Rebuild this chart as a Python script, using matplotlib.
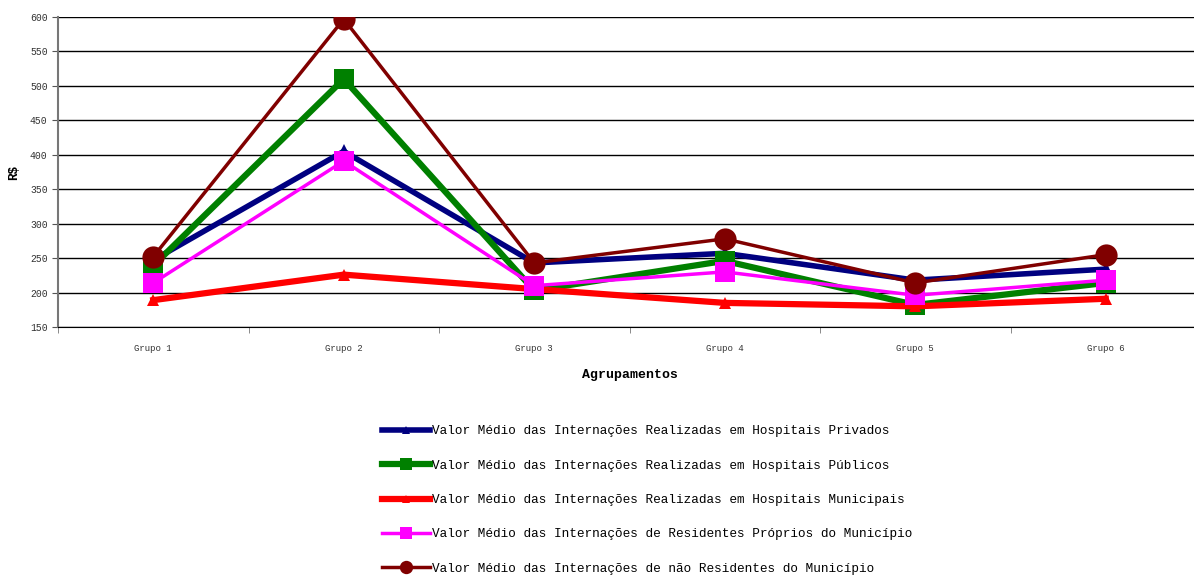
import matplotlib
matplotlib.use("Agg")
import matplotlib.pyplot as plt

groups = ["Grupo 1", "Grupo 2", "Grupo 3", "Grupo 4", "Grupo 5", "Grupo 6"]

privados = [247, 405, 243, 257, 218, 234]
publicos = [239, 510, 203, 246, 182, 214]
municipais = [189, 226, 205, 185, 180, 191]
residentes = [214, 391, 210, 230, 196, 218]
nao_residentes = [252, 597, 243, 278, 214, 255]

labels = [
    "Valor Médio das Internações Realizadas em Hospitais Privados",
    "Valor Médio das Internações Realizadas em Hospitais Públicos",
    "Valor Médio das Internações Realizadas em Hospitais Municipais",
    "Valor Médio das Internações de Residentes Próprios do Município",
    "Valor Médio das Internações de não Residentes do Município",
]

mono = "Liberation Mono"

fig = plt.figure(figsize=(11.94, 5.8), dpi=100)
ax = fig.add_axes([58 / 1194, 1 - 327 / 580, (1201 - 58) / 1194, (327 - 17) / 580])

x = list(range(len(groups)))
styles = [
    (privados, "#000080", 4.0, "^", 10),
    (publicos, "#008000", 4.5, "s", 14),
    (municipais, "#ff0000", 4.5, "^", 9),
    (residentes, "#ff00ff", 2.5, "s", 14),
    (nao_residentes, "#800000", 2.5, "o", 16),
]
for (vals, color, lw, mk, ms), lab in zip(styles, labels):
    ax.plot(x, vals, color=color, lw=lw, marker=mk, markersize=ms,
            markeredgewidth=0, label=lab, solid_joinstyle="miter")

ax.set_xlim(-0.5, 5.5)
ax.set_ylim(150, 600)
ax.set_yticks(range(150, 601, 50))
ax.yaxis.grid(True, color="black", lw=1)
ax.set_axisbelow(True)

ax.set_xticks(x)
ax.set_xticklabels(groups, fontsize=6.5, family=mono, color="#333333")
ax.set_xticks([i + 0.5 for i in range(-1, 6)], minor=True)
ax.tick_params(axis="x", which="major", length=0, pad=12)
ax.tick_params(axis="x", which="minor", length=4, color="#777777", direction="out")
ax.tick_params(axis="y", length=4, color="#555555", labelsize=7, labelcolor="#333333")
for t in ax.get_yticklabels():
    t.set_family(mono)

for s in ["top", "right"]:
    ax.spines[s].set_visible(False)
ax.spines["left"].set_color("#777777")
ax.spines["left"].set_linewidth(1.5)
ax.spines["bottom"].set_color("black")

ax.set_ylabel("R$", fontsize=9, fontweight="bold", family=mono, labelpad=7)
ax.set_xlabel("Agrupamentos", fontsize=9.5, fontweight="bold", family=mono, labelpad=12)

leg = fig.legend(loc="center", bbox_to_anchor=(647 / 1194, 1 - 500 / 580),
                 frameon=False, prop={"family": mono, "size": 9.2},
                 handlelength=3.8, handletextpad=0.1, labelspacing=1.75,
                 markerscale=0.6)

fig.savefig("out.png", dpi=100)
